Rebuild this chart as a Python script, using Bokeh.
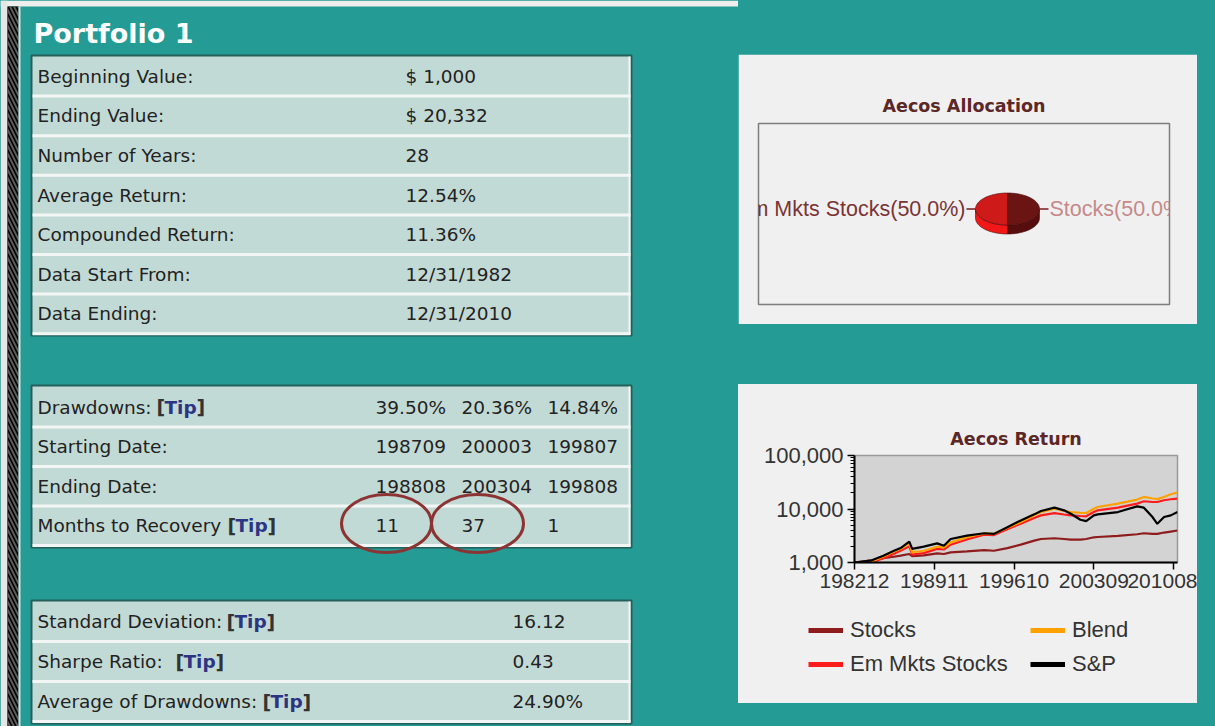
import math
from bokeh.plotting import figure
from bokeh.models import (Range1d, FixedTicker, NumeralTickFormatter, Legend, LegendItem, Spacer)
from bokeh.layouts import row, column
from bokeh.core.properties import value
from bokeh.embed import file_html
from bokeh.resources import INLINE

# ---------------- data ----------------
portfolio_title = "Portfolio 1"

summary_labels = ["Beginning Value:", "Ending Value:", "Number of Years:", "Average Return:",
                  "Compounded Return:", "Data Start From:", "Data Ending:"]
summary_values = ["$ 1,000", "$ 20,332", "28", "12.54%", "11.36%", "12/31/1982", "12/31/2010"]

dd_labels = ["Drawdowns:", "Starting Date:", "Ending Date:", "Months to Recovery"]
dd_tip = [True, False, False, True]
dd_pct = ["39.50%", "20.36%", "14.84%"]
dd_start = ["198709", "200003", "199807"]
dd_end = ["198808", "200304", "199808"]
dd_recovery = ["11", "37", "1"]

risk_labels = ["Standard Deviation:", "Sharpe Ratio:", "Average of Drawdowns:"]
risk_values = ["16.12", "0.43", "24.90%"]

alloc_names = ["Stocks", "Em Mkts Stocks"]
alloc_pct = [50.0, 50.0]

months = ["198212", "198406", "198506", "198605", "198612", "198709", "198712", "198812",
          "199002", "199009", "199104", "199209", "199403", "199501", "199603", "199705",
          "199807", "199902", "200004", "200102", "200109", "200207", "200301", "200309",
          "200401", "200510", "200706", "200801", "200810", "200903", "200910", "201005",
          "201012"]
stocks = [1000, 1100, 1200, 1280, 1340, 1440, 1320, 1355, 1480, 1440, 1545, 1610, 1710, 1660,
          1860, 2155, 2560, 2750, 2840, 2750, 2680, 2680, 2750, 2960, 3000, 3140, 3370, 3520,
          3430, 3430, 3630, 3790, 3960]
em_mkts = [1000, 1000, 1200, 1450, 1650, 2000, 1400, 1500, 1800, 1750, 2150, 2700, 3300, 3250,
           4200, 5300, 6800, 7600, 8400, 7900, 7600, 7400, 7300, 8760, 9440, 10600, 12600,
           13960, 13530, 13530, 14570, 15200, 15670]
blend = [1000, 1050, 1300, 1600, 1800, 2300, 1545, 1660, 1975, 1920, 2380, 2960, 3520, 3430,
         4450, 5690, 7600, 8760, 10140, 9200, 8760, 8500, 8410, 10140, 10900, 12600, 15000,
         16800, 15700, 15300, 16800, 18900, 20332]
sp500 = [1000, 1100, 1340, 1660, 1860, 2450, 1800, 1975, 2280, 2060, 2750, 3180, 3520, 3430,
         4575, 6110, 7940, 9180, 10600, 9440, 8170, 6290, 5950, 7600, 7940, 8770, 11210, 10600,
         7070, 5280, 7070, 7600, 8760]
series_names = ["Stocks", "Em Mkts Stocks", "Blend", "S&P"]
x_tick_labels = ["198212", "198911", "199610", "200309", "201008"]
y_ticks = [1000, 10000, 100000]

# ---------------- styles ----------------
TEAL = "#259b95"
CELL = "#c2dad5"
BORDER = "#245f5b"
SEP = "#f2f7f6"
TXT = "#222222"
TIP = "#2c3483"
PANEL = "#f0f0f0"
FONT = value("DejaVu Sans")
CFONT = value("Liberation Sans")
TSIZE = "18.5px"
TITLE_COLOR = "#5b2727"


def blank(width, height, color):
    f = figure(width=width, height=height, x_range=Range1d(0, 1), y_range=Range1d(0, 1),
               toolbar_location=None, output_backend="svg", x_axis_location=None,
               y_axis_location=None, min_border=0, outline_line_color=None,
               background_fill_color=color, border_fill_color=color, frame_align=False)
    f.grid.visible = False
    return f


# ---------------- left page figure (pixel coordinates) ----------------
left = figure(width=738, height=726, x_range=Range1d(0, 738), y_range=Range1d(726, 0),
              toolbar_location=None, output_backend="svg", x_axis_location=None,
              y_axis_location=None, min_border=0, outline_line_color=None,
              background_fill_color=TEAL, border_fill_color=TEAL, frame_align=False)
left.grid.visible = False

left.quad(left=[0], right=[738], top=[0], bottom=[6], fill_color="#eeeeee", line_color=None)
left.quad(left=[0], right=[7], top=[0], bottom=[726], fill_color="#e6e6e6", line_color=None)
left.quad(left=[7], right=[18], top=[6], bottom=[726], fill_color="black", line_color=None,
          hatch_pattern="\\", hatch_color="#5c5c5c", hatch_scale=8, hatch_weight=2)
left.quad(left=[18], right=[20], top=[6], bottom=[726], fill_color="#cfe0dd", line_color=None)

left.text(x=[33], y=[33], text=[portfolio_title], text_font=FONT, text_font_style="bold",
          text_font_size="27px", text_color="white", text_baseline="middle")


def txt(xs_, ys_, texts, size=TSIZE, color=TXT, style="normal"):
    left.text(x=xs_, y=ys_, text=texts, text_font=FONT, text_font_size=size, text_color=color,
              text_baseline="middle", text_font_style=style)


def draw_table(top, first, row_h, n, bottom):
    left.quad(left=[31], right=[631], top=[top], bottom=[bottom], fill_color=CELL,
              line_color=BORDER, line_width=2)
    ys = [first + row_h * (k + 1) for k in range(n)]
    left.segment(x0=[32] * n, x1=[630] * n, y0=ys, y1=ys, line_color=SEP, line_width=3)
    left.segment(x0=[629], x1=[629], y0=[top + 1], y1=[bottom - 1], line_color=SEP, line_width=2)
    return [first + row_h * (k + 0.5) for k in range(n)]


def draw_tip(x, y):
    txt([x], [y], ["["], size="19px", color="#333333", style="bold")
    txt([x + 8], [y], ["Tip"], color=TIP, style="bold")
    txt([x + 40], [y], ["]"], size="19px", color="#333333", style="bold")


ys1 = draw_table(55, 56, 39.6, 7, 335)
txt([37] * 7, ys1, summary_labels)
txt([405] * 7, ys1, summary_values)

ys2 = draw_table(385, 387, 39.5, 4, 547)
txt([37] * 4, ys2, dd_labels)
for yy, has, tx in zip(ys2, dd_tip, [156, None, None, 227]):
    if has:
        draw_tip(tx, yy)
col_x = [375, 461, 547]
for yy, vals in zip(ys2, [dd_pct, dd_start, dd_end, dd_recovery]):
    txt(col_x, [yy] * 3, vals)

left.ellipse(x=[386, 477], y=[523, 523], width=[90, 92], height=[58, 58], fill_color=None,
             line_color="#8c3434", line_width=3)

ys3 = draw_table(600, 601, 40, 3, 723)
txt([37] * 3, ys3, risk_labels)
for yy, tx in zip(ys3, [226, 175, 262]):
    draw_tip(tx, yy)
txt([512] * 3, ys3, risk_values)

# ---------------- allocation pie ----------------
alloc = figure(width=459, height=270, x_range=Range1d(758, 1169), y_range=Range1d(304, 123),
               toolbar_location=None, output_backend="svg", x_axis_location=None,
               y_axis_location=None, min_border_left=20, min_border_right=28,
               min_border_top=69, min_border_bottom=20, background_fill_color=PANEL,
               border_fill_color=PANEL, outline_line_color="#7d7d7d", outline_line_width=1.5,
               title="Aecos Allocation", frame_align=False)
alloc.grid.visible = False

face_colors = ["#6b1414", "#cf1a1a"]
side_colors = ["#550d0d", "#f21818"]
label_colors = ["#c48a8a", "#7a3434"]
cx, cy, rx, ry, depth = 1007, 208.5, 32, 16, 9
total = sum(alloc_pct)
start = 90.0
faces, walls, mids = [], [], []
for pct in alloc_pct:
    sweep = 360.0 * pct / total
    a0, a1 = start, start - sweep
    start = a1
    steps = 60
    angs = [math.radians(a0 + (a1 - a0) * k / steps) for k in range(steps + 1)]
    faces.append(([cx] + [cx + rx * math.cos(a) for a in angs],
                  [cy] + [cy - ry * math.sin(a) for a in angs]))
    front = [a for a in angs if math.sin(a) <= 1e-9]
    if front:
        wx = [cx + rx * math.cos(a) for a in front] + [cx + rx * math.cos(a) for a in front[::-1]]
        wy = ([cy - ry * math.sin(a) for a in front] +
              [cy - ry * math.sin(a) + depth for a in front[::-1]])
        walls.append((wx, wy))
    else:
        walls.append(None)
    mids.append(math.radians((a0 + a1) / 2))

for w, c in zip(walls, side_colors):
    if w:
        alloc.patch(w[0], w[1], fill_color=c, line_color="#4a0a0a", line_width=0.6)
for (fx, fy), c in zip(faces, face_colors):
    alloc.patch(fx, fy, fill_color=c, line_color="#4a0a0a", line_width=0.6)

lead = 9
for name, pct, m, lc in zip(alloc_names, alloc_pct, mids, label_colors):
    ex, ey = cx + rx * math.cos(m), cy - ry * math.sin(m)
    dx = 1 if math.cos(m) >= 0 else -1
    alloc.segment(x0=[ex], y0=[ey], x1=[ex + dx * lead], y1=[ey], line_color="#7a1a1a",
                  line_width=1.5)
    alloc.text(x=[ex + dx * (lead + 1)], y=[ey], text=[f"{name}({pct:.1f}%)"],
               text_font=CFONT, text_font_size="21.5px", text_color=lc,
               text_baseline="middle", text_align="left" if dx > 0 else "right")

# ---------------- return chart ----------------
def month_index(s):
    return (int(s[:4]) * 12 + int(s[4:])) - (int(months[0][:4]) * 12 + int(months[0][4:]))


xs = [month_index(m) for m in months]
ret = figure(width=459, height=218, x_range=Range1d(0, month_index(months[-1])),
             y_range=Range1d(1000, 100000), y_axis_type="log", toolbar_location=None,
             output_backend="svg", min_border_left=116, min_border_right=20,
             min_border_top=71, min_border_bottom=40, background_fill_color="#d3d3d3",
             border_fill_color=PANEL, outline_line_color="#9a9a9a", outline_line_width=1.5,
             title="Aecos Return", frame_align=False)
ret.grid.visible = False

for t, so in ((alloc.title, 16), (ret.title, 14)):
    t.align = "center"
    t.text_font = "DejaVu Sans"
    t.text_font_size = "17.5px"
    t.text_font_style = "bold"
    t.text_color = TITLE_COLOR
    t.standoff = so

tick_pos = [month_index(t) for t in x_tick_labels]
ret.xaxis.ticker = FixedTicker(ticks=tick_pos)
ret.xaxis.major_label_overrides = {k: l for k, l in zip(tick_pos, x_tick_labels)}
minor = [m * 10 ** e for e in (3, 4) for m in range(2, 10)]
ret.yaxis.ticker = FixedTicker(ticks=y_ticks, minor_ticks=minor)
ret.yaxis.formatter = NumeralTickFormatter(format="0,0")
for ax, fs in ((ret.xaxis[0], "21px"), (ret.yaxis[0], "22px")):
    ax.axis_line_color = "black"
    ax.axis_line_width = 2
    ax.major_tick_line_color = "black"
    ax.major_tick_line_width = 1.5
    ax.major_tick_out = 7
    ax.major_tick_in = 0
    ax.minor_tick_line_color = "black"
    ax.minor_tick_out = 4
    ax.minor_tick_in = 0
    ax.major_label_text_font = "Liberation Sans"
    ax.major_label_text_font_size = fs
    ax.major_label_text_color = "#333333"
    ax.major_label_standoff = 4
ret.xaxis.minor_tick_line_color = None

series = [stocks, em_mkts, blend, sp500]
colors = ["#8e1c1c", "#ff1c1c", "#ffa200", "#000000"]
for ys, c in zip(series, colors):
    ret.line(xs, ys, line_color=c, line_width=2.2)

# ---------------- legend strip under the return chart ----------------
# (same series drawn again, out of this strip's view, to carry the legend swatches)
leg = blank(459, 101, PANEL)
proxies = [leg.line(xs, ys, line_color=c, line_width=5) for ys, c in zip(series, colors)]
legend = Legend(items=[LegendItem(label=n, renderers=[r]) for n, r in zip(series_names, proxies)],
                orientation="vertical", nrows=2, location=(70, 26), padding=0, margin=0,
                border_line_color=None, background_fill_alpha=0,
                label_text_font="Liberation Sans", label_text_font_size="22px",
                label_text_color="#333333", glyph_width=35, glyph_height=24,
                label_standoff=7, spacing=8, label_width=172, label_height=24)
leg.add_layout(legend)

ret_panel = column(ret, leg, styles={"background-color": PANEL})
right = column(blank(477, 6, "#eeeeee"), Spacer(width=477, height=48), alloc,
               Spacer(width=477, height=60), ret_panel, Spacer(width=477, height=23),
               styles={"background-color": TEAL})
page = row(left, right, styles={"background-color": TEAL})

open("out.html", "w").write(file_html(page, INLINE))
